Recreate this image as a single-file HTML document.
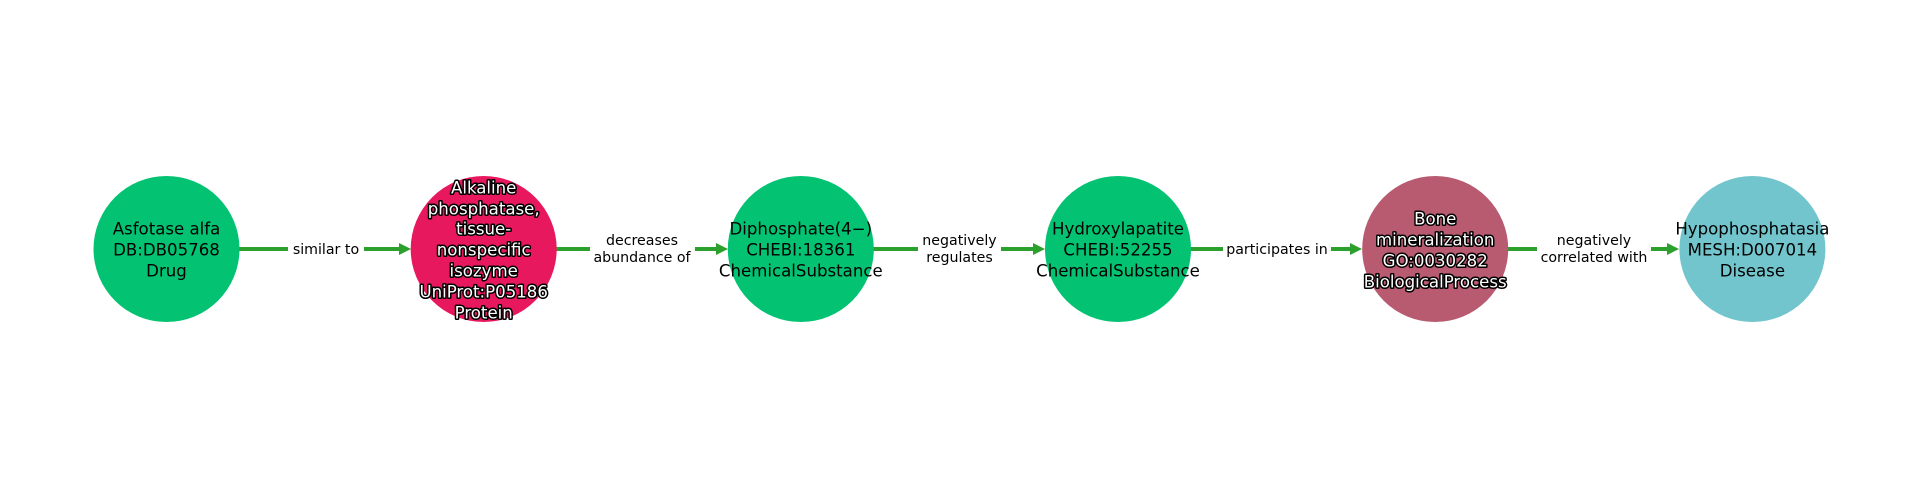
<!DOCTYPE html>
<html><head><meta charset="utf-8"><style>
html,body{margin:0;padding:0;background:#fff;width:1920px;height:500px;overflow:hidden}
svg{display:block}
text{font-family:"DejaVu Sans","Liberation Sans",sans-serif}
.n{font-size:16.6px;text-anchor:middle;dominant-baseline:central;fill:#000}
.w{fill:#fff;stroke:#000;stroke-width:3px;paint-order:stroke;stroke-linejoin:round}
.e{font-size:14.2px;text-anchor:middle;dominant-baseline:central;fill:#000}
</style></head><body>
<svg width="1920" height="500" viewBox="0 0 1920 500">
<g stroke="#2ca02c" stroke-width="4" fill="none">
<line x1="239" y1="249" x2="402" y2="249"/>
<line x1="556" y1="249" x2="719" y2="249"/>
<line x1="873" y1="249" x2="1036" y2="249"/>
<line x1="1190" y1="249" x2="1353" y2="249"/>
<line x1="1508" y1="249" x2="1670" y2="249"/>
</g>
<g fill="#2ca02c">
<polygon points="411,249 399,243 399,255"/>
<polygon points="728,249 716,243 716,255"/>
<polygon points="1045,249 1033,243 1033,255"/>
<polygon points="1362,249 1350,243 1350,255"/>
<polygon points="1679,249 1667,243 1667,255"/>
</g>
<g fill="#fff">
<rect x="288" y="238" width="76" height="22"/>
<rect x="590" y="228" width="105" height="42"/>
<rect x="918" y="228" width="83" height="42"/>
<rect x="1223" y="238" width="108" height="22"/>
<rect x="1537" y="228" width="114" height="42"/>
</g>
<g transform="translate(0,1)">
<text class="e" x="326" y="249">similar to</text>
<text class="e" x="642" y="240">decreases</text><text class="e" x="642" y="257">abundance of</text>
<text class="e" x="959.5" y="240">negatively</text><text class="e" x="959.5" y="257">regulates</text>
<text class="e" x="1277" y="249">participates in</text>
<text class="e" x="1594" y="240">negatively</text><text class="e" x="1594" y="257">correlated with</text>
</g>

<circle cx="166.5" cy="249" r="73" fill="#03c373"/>
<circle cx="483.7" cy="249" r="73" fill="#e8185f"/>
<circle cx="800.8" cy="249" r="73" fill="#03c373"/>
<circle cx="1118" cy="249" r="73" fill="#03c373"/>
<circle cx="1435.2" cy="249" r="73" fill="#b85a70"/>
<circle cx="1752.4" cy="249" r="73" fill="#72c5cc"/>

<g transform="translate(0,1)">
<text class="n" x="166.5" y="228">Asfotase alfa</text>
<text class="n" x="166.5" y="249">DB:DB05768</text>
<text class="n" x="166.5" y="270">Drug</text>

<text class="n w" x="483.7" y="187">Alkaline</text>
<text class="n w" x="483.7" y="208">phosphatase,</text>
<text class="n w" x="483.7" y="228">tissue-</text>
<text class="n w" x="483.7" y="249">nonspecific</text>
<text class="n w" x="483.7" y="270">isozyme</text>
<text class="n w" x="483.7" y="291">UniProt:P05186</text>
<text class="n w" x="483.7" y="312">Protein</text>

<text class="n" x="800.8" y="228">Diphosphate(4−)</text>
<text class="n" x="800.8" y="249">CHEBI:18361</text>
<text class="n" x="800.8" y="270">ChemicalSubstance</text>

<text class="n" x="1118" y="228">Hydroxylapatite</text>
<text class="n" x="1118" y="249">CHEBI:52255</text>
<text class="n" x="1118" y="270">ChemicalSubstance</text>

<text class="n w" x="1435.2" y="218">Bone</text>
<text class="n w" x="1435.2" y="239">mineralization</text>
<text class="n w" x="1435.2" y="260">GO:0030282</text>
<text class="n w" x="1435.2" y="281">BiologicalProcess</text>

<text class="n" x="1752.4" y="228">Hypophosphatasia</text>
<text class="n" x="1752.4" y="249">MESH:D007014</text>
<text class="n" x="1752.4" y="270">Disease</text>
</g>
</svg>
</body></html>
